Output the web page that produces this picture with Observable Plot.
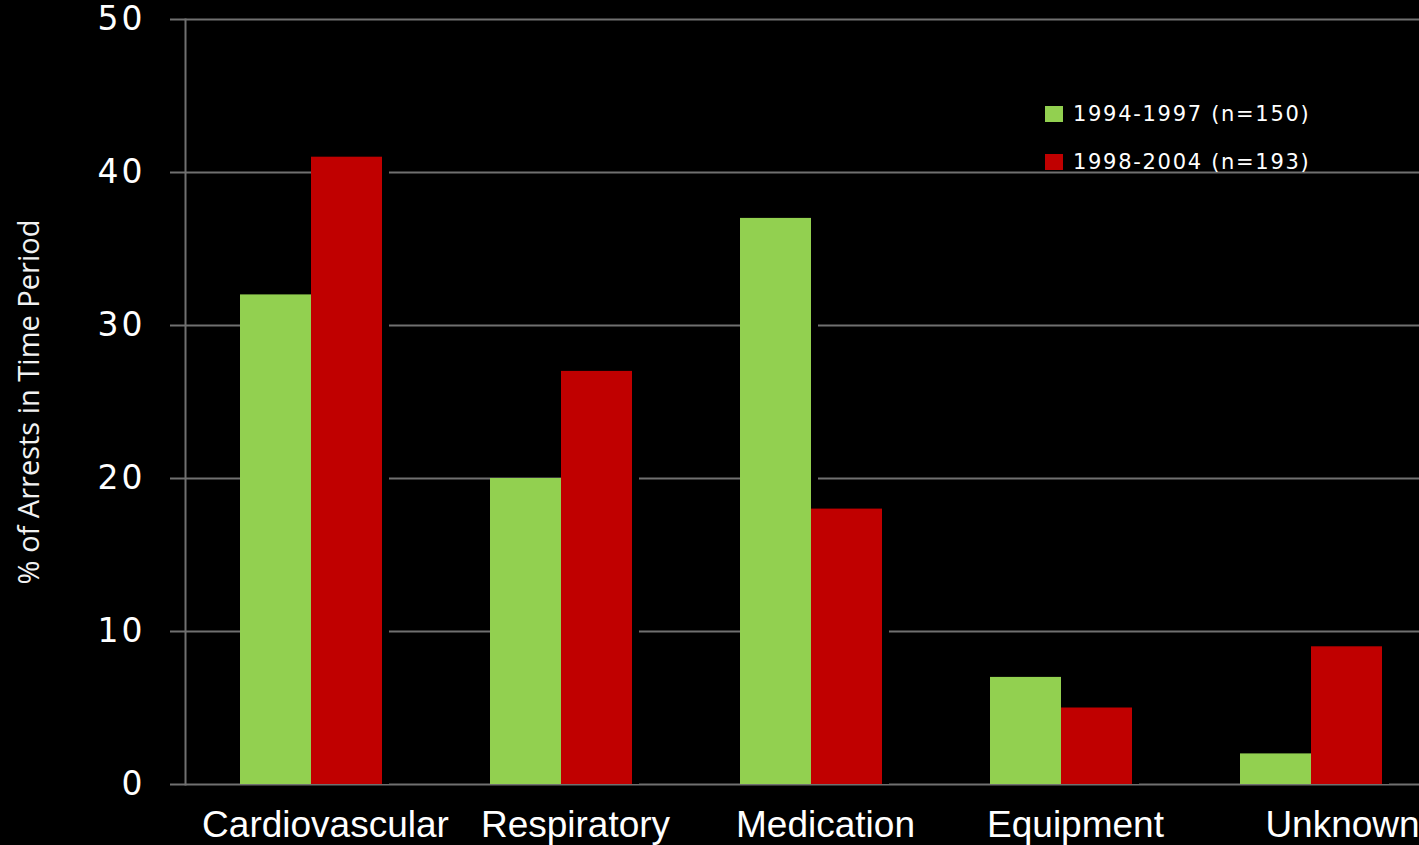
<!DOCTYPE html>
<html>
<head>
<meta charset="utf-8">
<script src="https://cdn.jsdelivr.net/npm/d3@7"></script>
<script src="https://cdn.jsdelivr.net/npm/@observablehq/plot@0.6"></script>
<style>
  html, body { margin: 0; padding: 0; background: #000; }
  #wrap { position: relative; width: 1419px; height: 845px; background: #000; overflow: hidden; }
  #legend { position: absolute; left: 1045px; top: 99px; font-family: "DejaVu Sans", Verdana, sans-serif; font-size: 21px; letter-spacing: 1.7px; color: #fff; }
  #legend .row { display: flex; align-items: center; height: 30px; margin-bottom: 18px; }
  #legend .sw { width: 18px; height: 16px; margin-right: 10px; }
  g[aria-label="y-axis tick label"] text { letter-spacing: 3px; }
</style>
</head>
<body>
<div id="wrap"></div>
<script>
const categories = ["Cardiovascular", "Respiratory", "Medication", "Equipment", "Unknown"];
const seriesNames = ["1994-1997 (n=150)", "1998-2004 (n=193)"];
const values1994 = [32, 20, 37, 7, 2];
const values1998 = [41, 27, 18, 5, 9];
const yTicks = [0, 10, 20, 30, 40, 50];
const seriesColors = ["#92d050", "#c00000"];

const rows1994 = categories.map((c, i) => ({category: c, series: seriesNames[0], value: values1994[i]}));
const rows1998 = categories.map((c, i) => ({category: c, series: seriesNames[1], value: values1998[i]}));

const half = 71;
const gridColor = "#707070";
const xFont = {tickSize: 0, tickPadding: 26, fontSize: 37, fontFamily: "Liberation Sans, Arial, sans-serif", label: null};

const chart = Plot.plot({
  width: 1419,
  height: 845,
  marginLeft: 185,
  marginRight: 0,
  marginTop: 19,
  marginBottom: 61,
  style: {background: "#000", color: "#fff", overflow: "visible"},
  x: {domain: categories, range: [186, 1436], paddingInner: 0.432, paddingOuter: 0.216},
  y: {domain: [0, 50]},
  marks: [
    Plot.gridY(yTicks, {stroke: gridColor, strokeOpacity: 1, strokeWidth: 2}),
    Plot.frame({anchor: "left", stroke: gridColor, strokeWidth: 2}),
    Plot.axisY({ticks: yTicks, tickSize: 15, tickPadding: 25, stroke: gridColor, strokeWidth: 2,
      fontSize: 33, fontFamily: "DejaVu Sans, Verdana, sans-serif", label: null}),
    Plot.axisY({ticks: [], tickSize: 0, label: "% of Arrests in Time Period", labelAnchor: "center",
      labelArrow: "none", labelOffset: 167, fontSize: 29, fontFamily: "Open Sans, sans-serif", fill: "#f2f2f2"}),
    Plot.axisX({...xFont, ticks: categories.slice(0, 4), dx: 14}),
    Plot.axisX({...xFont, ticks: categories.slice(4), dx: 31}),
    // black drop shadows that cut the gridlines to the right of each bar
    Plot.barY(rows1994, {x: "category", y: "value", fill: "#000", insetLeft: 0, insetRight: half - 7}),
    Plot.barY(rows1998, {x: "category", y: "value", fill: "#000", insetLeft: half, insetRight: -7}),
    Plot.barY(rows1994, {x: "category", y: "value", fill: seriesColors[0], insetRight: half}),
    Plot.barY(rows1998, {x: "category", y: "value", fill: seriesColors[1], insetLeft: half})
  ]
});

const wrap = document.getElementById("wrap");
wrap.appendChild(chart);

const legend = document.createElement("div");
legend.id = "legend";
seriesNames.forEach((name, i) => {
  const row = document.createElement("div");
  row.className = "row";
  const sw = document.createElement("span");
  sw.className = "sw";
  sw.style.background = seriesColors[i];
  const label = document.createElement("span");
  label.textContent = name;
  row.appendChild(sw);
  row.appendChild(label);
  legend.appendChild(row);
});
wrap.appendChild(legend);
</script>
</body>
</html>
